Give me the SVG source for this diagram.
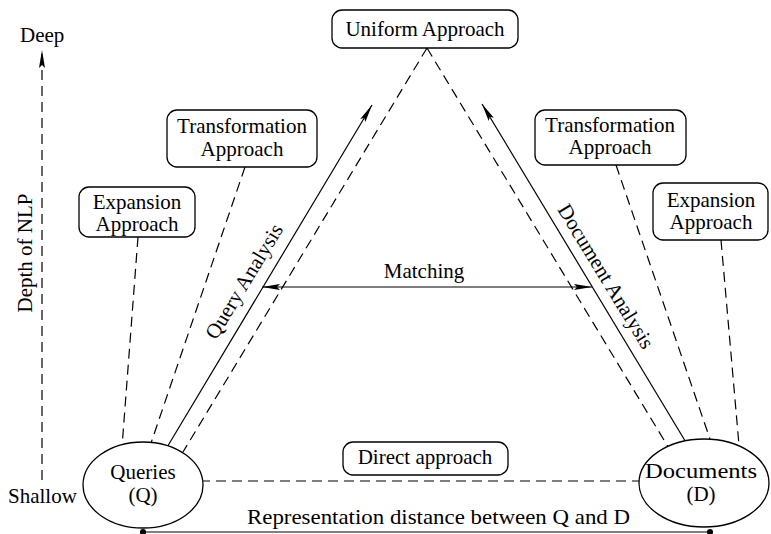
<svg xmlns="http://www.w3.org/2000/svg" width="771" height="534" viewBox="0 0 771 534">
<style>
text{font-family:"Liberation Serif","Times New Roman",serif;font-size:21px;fill:#000}
.c{text-anchor:middle}
.box{fill:#fff;stroke:#000;stroke-width:1.3}
.ell{fill:#fff;stroke:#000;stroke-width:1.3}
.d{fill:none;stroke:#000;stroke-width:1.2;stroke-dasharray:10 6}
.s{fill:none;stroke:#000;stroke-width:1.2}
</style>
<defs>
<marker id="ah" viewBox="0 0 18 6" refX="18" refY="3" markerWidth="18" markerHeight="6" markerUnits="userSpaceOnUse" orient="auto-start-reverse">
<path d="M0,0 L18,3 L0,6 L3,3 z" fill="#000"/>
</marker>
</defs>
<rect width="771" height="534" fill="#fff"/>
<g id="connectors">
<line class="d" x1="42" y1="480" x2="42" y2="50" marker-end="url(#ah)"/>
<line class="d" x1="138" y1="237" x2="122" y2="447"/>
<line class="d" x1="245" y1="167" x2="150" y2="446"/>
<line class="s" x1="166" y1="449" x2="372" y2="105" marker-end="url(#ah)"/>
<line class="d" x1="427" y1="48" x2="183" y2="452"/>
<line class="d" x1="427" y1="48" x2="670" y2="450"/>
<line class="s" x1="687" y1="444" x2="482" y2="104" marker-end="url(#ah)"/>
<line class="d" x1="616" y1="165" x2="711" y2="442"/>
<line class="d" x1="721" y1="240" x2="739" y2="445"/>
<line class="s" x1="262" y1="287" x2="592" y2="287" marker-start="url(#ah)" marker-end="url(#ah)"/>
<line class="d" x1="200" y1="481" x2="642" y2="481"/>
<line class="s" x1="143" y1="532" x2="710" y2="532"/>
<circle cx="143" cy="532" r="3" fill="#000"/>
<circle cx="710" cy="532" r="3" fill="#000"/>
</g>
<g id="axis-labels">
<text x="20" y="42">Deep</text>
<text x="8" y="503">Shallow</text>
<text class="c" transform="translate(32,253) rotate(-90)">Depth of NLP</text>
</g>
<g id="uniform">
<rect class="box" x="332" y="10" width="186" height="38" rx="10"/>
<text class="c" x="425" y="36">Uniform Approach</text>
</g>
<g id="transformation-left">
<rect class="box" x="167" y="110" width="150" height="57" rx="10"/>
<text class="c" x="242" y="133">Transformation</text>
<text class="c" x="242" y="156">Approach</text>
</g>
<g id="expansion-left">
<rect class="box" x="79" y="187" width="116" height="50" rx="10"/>
<text class="c" x="137" y="209">Expansion</text>
<text class="c" x="137" y="231">Approach</text>
</g>
<g id="transformation-right">
<rect class="box" x="535" y="110" width="151" height="55" rx="10"/>
<text class="c" x="610" y="132">Transformation</text>
<text class="c" x="610" y="154">Approach</text>
</g>
<g id="expansion-right">
<rect class="box" x="653" y="183" width="115" height="57" rx="10"/>
<text class="c" x="711" y="207">Expansion</text>
<text class="c" x="711" y="229">Approach</text>
</g>
<g id="direct">
<rect class="box" x="343" y="442" width="165" height="33" rx="10"/>
<text class="c" x="425" y="464">Direct approach</text>
</g>
<g id="queries">
<ellipse class="ell" cx="143" cy="485" rx="60" ry="43"/>
<text class="c" x="143" y="479">Queries</text>
<text class="c" x="143" y="502">(Q)</text>
</g>
<g id="documents">
<ellipse class="ell" cx="704" cy="483" rx="65" ry="44"/>
<text class="c" x="701" y="478" textLength="112" lengthAdjust="spacingAndGlyphs">Documents</text>
<text class="c" x="701" y="501">(D)</text>
</g>
<g id="edge-labels">
<text class="c" x="424" y="278">Matching</text>
<text class="c" transform="translate(250,285) rotate(-58.8)">Query Analysis</text>
<text class="c" transform="translate(600,280) rotate(58.6)">Document Analysis</text>
<text x="247" y="524" textLength="383" lengthAdjust="spacingAndGlyphs">Representation distance between Q and D</text>
</g>
</svg>
